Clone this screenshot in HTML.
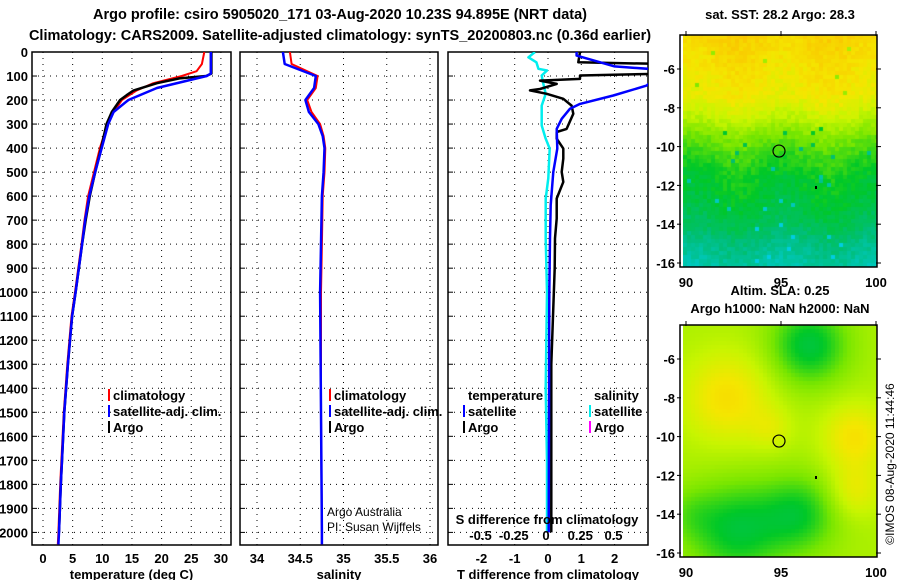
<!DOCTYPE html>
<html><head><meta charset="utf-8">
<style>
body{margin:0;background:#fff;width:900px;height:580px;overflow:hidden;position:relative;font-family:"Liberation Sans",sans-serif}
svg text{font-family:"Liberation Sans",sans-serif;font-weight:bold;font-size:13px;fill:#000}
canvas{position:absolute}
</style></head><body>
<canvas id="map1" width="194" height="232" style="left:683px;top:35px"></canvas>
<canvas id="map2" width="194" height="232" style="left:683px;top:325px"></canvas>
<svg id="s" width="900" height="580" style="position:absolute;left:0;top:0"></svg>
<script>
// ---- data ----
const tempDepths = [0,90,100,150,200,250,300,400,500,600,700,800,1000,1100,1300,1500,1700,1800,2000,2050];
const tempSat    = [28.3,28.3,27.6,19.2,14.4,11.9,11.0,9.9,8.8,7.8,7.1,6.6,5.5,4.9,4.2,3.6,3.2,3.0,2.7,2.6];
const tempClimDepths = [0,50,80,100,130,160,200,250,290,400,500,600,700,800,1000,1100,1300,1500,1700,1800,2000,2050];
const tempClim   = [27.2,26.8,25.9,23.4,18.6,15.8,13.3,11.9,11.0,9.6,8.6,7.6,7.0,6.5,5.4,4.8,4.1,3.5,3.1,2.9,2.6,2.5];
const tempArgoDepths = [0,90,100,110,130,160,180,200,250,300,400,500,600,700,800,1000,1100,1300,1500,1700,1800,2000];
const tempArgo   = [28.4,28.4,27.5,23.0,19.2,15.3,14.1,13.0,11.6,10.7,9.8,8.8,7.9,7.2,6.6,5.5,4.9,4.2,3.6,3.2,3.0,2.7];
const salDepths  = [0,50,100,150,200,250,300,350,400,500,600,800,1000,1500,2000,2050];
const salSat     = [34.30,34.32,34.68,34.66,34.56,34.60,34.71,34.76,34.78,34.77,34.75,34.74,34.73,34.74,34.75,34.75];
const salClim    = [34.38,34.40,34.70,34.68,34.58,34.63,34.73,34.77,34.79,34.78,34.76,34.75,34.74,34.74,34.75,34.75];
const tdArgoDepths = [0,43,50,70,90,98,112,119,133,154,160,174,195,223,257,320,333,361,402,444,499,541,610,693,776,900,1100,1300,1500,1800,2000];
const tdArgo     = [0.96,0.91,3.5,3.5,3.5,0.96,0.96,-0.24,0.26,-0.24,-0.54,-0.04,0.46,0.71,0.76,0.56,0.26,0.26,0.46,0.46,0.41,0.46,0.26,0.26,0.21,0.2,0.15,0.1,0.1,0.1,0.1];
const tdSatDepths = [0,15,60,75,140,181,216,236,278,320,402,499,637,776,1000,1500,2000];
const tdSat      = [0.86,0.86,2.0,3.5,2.96,1.96,0.96,0.66,0.41,0.26,0.28,0.16,0.08,0.06,0.04,0.03,0.02];
const sdSatDepths = [0,22,43,70,77,98,126,174,223,306,361,402,526,610,776,1000,1400,1700,2000];
const sdSat      = [-0.09,-0.14,-0.08,-0.065,0,-0.04,-0.03,-0.01,-0.04,-0.04,-0.01,0.02,0.01,-0.01,-0.01,0,-0.01,0,0];
const depthTicks = [0,100,200,300,400,500,600,700,800,900,1000,1100,1200,1300,1400,1500,1600,1700,1800,1900,2000];
const tempTicks = [0,5,10,15,20,25,30];
const salTicks = ["34","34.5","35","35.5","36"];
const tdTicks = [-2,-1,0,1,2];
const sdTickLabels = ["-0.5","-0.25","0","0.25","0.5"];
const lonTicks = [90,95,100];
const latTicks = [-6,-8,-10,-12,-14,-16];
const argoLon = [94.895], argoLat = [-10.23];

// ---- scales ----
const dy = d => 52 + d*0.2402;
const xT = t => 43 + t*5.93;
const xS = s => 257 + (s-34)*86.5;
const xTD = t => 548 + t*33.3;
const xSD = s => 547 + s*133;
const mX = lon => 686 + (lon-90)*19;
const mY = lat => 69 + (-6-lat)*19.4;

const svg = document.getElementById('s');
const NS = 'http://www.w3.org/2000/svg';
function mk(tag, attrs, parent){const e=document.createElementNS(NS,tag);for(const k in attrs)e.setAttribute(k,attrs[k]);(parent||svg).appendChild(e);return e;}
function txt(x,y,s,anchor,parent,extra){const e=mk('text',Object.assign({x:x,y:y,'text-anchor':anchor||'start'},extra||{}),parent);e.textContent=s;return e;}

const defs = mk('defs',{});
[[32,231],[240,438],[448,648]].forEach((p,i)=>{const c=mk('clipPath',{id:'c'+i},defs);mk('rect',{x:p[0],y:52,width:p[1]-p[0],height:493},c);});

// titles
let t1=txt(340,19,'Argo profile: csiro 5905020_171 03-Aug-2020 10.23S 94.895E (NRT data)','middle',null,{style:'font-size:14.5px'});

let t2=txt(340,40,'Climatology: CARS2009. Satellite-adjusted climatology: synTS_20200803.nc (0.36d earlier)','middle',null,{style:'font-size:14.5px'});


// panels
const panels = [
 {x0:32,x1:231,xs:tempTicks.map(xT),lbl:tempTicks.map(String),title:'temperature (deg C)',name:'temperature-panel'},
 {x0:240,x1:438,xs:salTicks.map(s=>xS(+s)),lbl:salTicks,title:'salinity',name:'salinity-panel'},
 {x0:448,x1:648,xs:tdTicks.map(xTD),lbl:tdTicks.map(String),title:'T difference from climatology',name:'difference-panel'}
];
panels.forEach((p,i)=>{
  const g=mk('g',{});
  
  
  depthTicks.forEach(d=>{ if(d>0) mk('line',{x1:p.x0,x2:p.x1,y1:dy(d),y2:dy(d),stroke:'#000','stroke-width':1,'stroke-dasharray':'1,5'},g);
    mk('line',{x1:p.x0,x2:p.x0+5,y1:dy(d),y2:dy(d),stroke:'#000'},g);});
  p.xs.forEach((x,j)=>{ mk('line',{x1:x,x2:x,y1:52,y2:545,stroke:'#000','stroke-dasharray':'1,5'},g);
    txt(x,563,p.lbl[j],'middle',g);});
  mk('rect',{x:p.x0,y:52,width:p.x1-p.x0,height:493,fill:'none',stroke:'#000','stroke-width':1.5},g);
  txt((p.x0+p.x1)/2,579,p.title,'middle',g);
});
depthTicks.forEach(d=>{const e=txt(28,dy(d)+5,String(d),'end');});

function line(xs,ds,fx,color,w,clip,name){
  const pts=xs.map((v,i)=>fx(v).toFixed(1)+','+dy(ds[i]).toFixed(1)).join(' ');
  const e=mk('polyline',{points:pts,fill:'none',stroke:color,'stroke-width':w,'clip-path':'url(#'+clip+')','stroke-linejoin':'round'});
  
}
line(tempClim,tempClimDepths,xT,'#f00',2,'c0','temp-climatology-line');
line(tempArgo,tempArgoDepths,xT,'#000',2.5,'c0','temp-argo-line');
line(tempSat,tempDepths,xT,'#00f',2.5,'c0','temp-satellite-line');
line(salClim,salDepths,xS,'#f00',2,'c1','sal-climatology-line');
line(salSat,salDepths,xS,'#00f',2.5,'c1','sal-satellite-line');
line(sdSat,sdSatDepths,xSD,'#0ee',2.5,'c2','sdiff-satellite-line');
line(tdArgo,tdArgoDepths,xTD,'#000',2.5,'c2','tdiff-argo-line');
line(tdSat,tdSatDepths,xTD,'#00f',2.5,'c2','tdiff-satellite-line');

// legends
function leg(x,y,color,label,name){const g=mk('g',{});
  if(color) mk('rect',{x:x-5,y:y-6,width:2,height:12,fill:color},g); txt(x,y+5,label,'start',g);}
leg(113,395,'#f00','climatology','legend-climatology');
leg(113,411,'#00f','satellite-adj. clim.','legend-satellite-adj');
leg(113,427,'#000','Argo','legend-argo');
leg(334,395,'#f00','climatology','legend-sal-climatology');
leg(334,411,'#00f','satellite-adj. clim.','legend-sal-satellite-adj');
leg(334,427,'#000','Argo','legend-sal-argo');
leg(468,395,null,'temperature','legend-temperature-header');
leg(468,411,'#00f','satellite','legend-tdiff-satellite');
leg(468,427,'#000','Argo','legend-tdiff-argo');
leg(594,395,null,'salinity','legend-salinity-header');
leg(594,411,'#0ee','satellite','legend-sdiff-satellite');
leg(594,427,'#f0f','Argo','legend-sdiff-argo');
let sdt=txt(547,524,'S difference from climatology','middle');
[-0.5,-0.25,0,0.25,0.5].forEach((v,i)=>{const e=txt(xSD(v)-(i==2?1:0),540,sdTickLabels[i],'middle');});
let cr=mk('text',{x:327,y:516,style:'font-weight:normal;font-size:12px'});cr.textContent='Argo Australia';
let cr2=mk('text',{x:327,y:531,style:'font-weight:normal;font-size:12px'});cr2.textContent='PI: Susan Wijffels';

// maps axes
[[0,'sat. SST: 28.2 Argo: 28.3',null],[290,'Altim. SLA: 0.25','Argo h1000: NaN h2000: NaN']].forEach((m,k)=>{
  const o=m[0], g=mk('g',{});
  
  
  mk('rect',{x:680,y:35+o,width:197,height:232,fill:'none',stroke:'#000','stroke-width':1.5},g);
  latTicks.forEach(l=>{mk('line',{x1:677,x2:681,y1:mY(l)+o,y2:mY(l)+o,stroke:'#000'},g);mk('line',{x1:876,x2:881,y1:mY(l)+o,y2:mY(l)+o,stroke:'#000'},g);txt(675,mY(l)+o+5,String(l),'end',g);});
  lonTicks.forEach(l=>{mk('line',{x1:mX(l),x2:mX(l),y1:31+o,y2:36+o,stroke:'#000'},g);txt(mX(l),o+287,String(l),'middle',g);});
  argoLon.forEach((lo,i)=>mk('circle',{cx:mX(lo),cy:mY(argoLat[i])+o,r:6,fill:'none',stroke:'#000','stroke-width':1.2},g));
  mk('rect',{x:815,y:o+186,width:2,height:3,fill:'#000'},g);
  if(k===0) txt(780,19,m[1],'middle',g);
  else {txt(780,295,m[1],'middle',g);txt(780,313,m[2],'middle',g);}
});
let ts=txt(0,0,'©IMOS 08-Aug-2020 11:44:46','middle',null,{transform:'translate(894,464) rotate(-90)',style:'font-weight:normal;font-size:12px'});


// map rasters (image texture)
function cmap(v){
  const st=[[0,[0,205,225]],[0.22,[0,190,120]],[0.38,[0,200,40]],[0.55,[120,230,0]],[0.72,[200,245,0]],[0.85,[245,230,0]],[1,[250,195,0]]];
  v=Math.max(0,Math.min(1,v));
  for(let i=1;i<st.length;i++){if(v<=st[i][0]){const a=st[i-1],b=st[i],f=(v-a[0])/(b[0]-a[0]);return 'rgb('+a[1].map((c,j)=>Math.round(c+(b[1][j]-c)*f)).join(',')+')';}}
  return 'rgb(250,195,0)';
}
function hash(i,j){let h=Math.sin(i*127.1+j*311.7)*43758.5453;return h-Math.floor(h);}
function interp(y,ys,vs){if(y<=ys[0])return vs[0];for(let k=1;k<ys.length;k++){if(y<=ys[k]){const f=(y-ys[k-1])/(ys[k]-ys[k-1]);return vs[k-1]+(vs[k]-vs[k-1])*f;}}return vs[vs.length-1];}
function draw(id,f){const c=document.getElementById(id).getContext('2d');
  for(let i=0;i<49;i++)for(let j=0;j<58;j++){const lon=90+(i*4+2+3)/19, lat=-6-((j*4+2+35)-69)/19.4;
    c.fillStyle=cmap(f(lon,lat,i,j));c.fillRect(i*4,j*4,4,4);} }
draw('map1',(lon,lat,i,j)=>{
  const y=-lat;
  let v=interp(y,[4.25,6,7.5,8.5,9.5,10.5,11.5,13,14,15,16.3],[0.93,0.87,0.82,0.71,0.56,0.46,0.39,0.34,0.29,0.2,0.12]);
  v+= (hash(i,j)-0.5)*0.08 + 0.03*Math.sin(lon*1.3);
  if(hash(j,i)>0.985) v-=0.25;
  return v;
});
draw('map2',(lon,lat)=>{
  const b=(x0,y0,s,a)=>a*Math.exp(-((lon-x0)**2+(lat-y0)**2)/(2*s*s));
  let v=0.66+b(92.5,-8,1.6,0.22)+b(94.8,-9.6,0.8,0.1)+b(99.2,-10,1.2,0.21)+b(99.2,-12.8,1,0.15)
    -b(96.8,-5.3,1.4,0.32)-b(93,-14.8,1.7,0.3)-b(96.3,-14,1.4,0.26)-b(90.5,-14,1,0.1);
  return v;
});
</script>
</body></html>
